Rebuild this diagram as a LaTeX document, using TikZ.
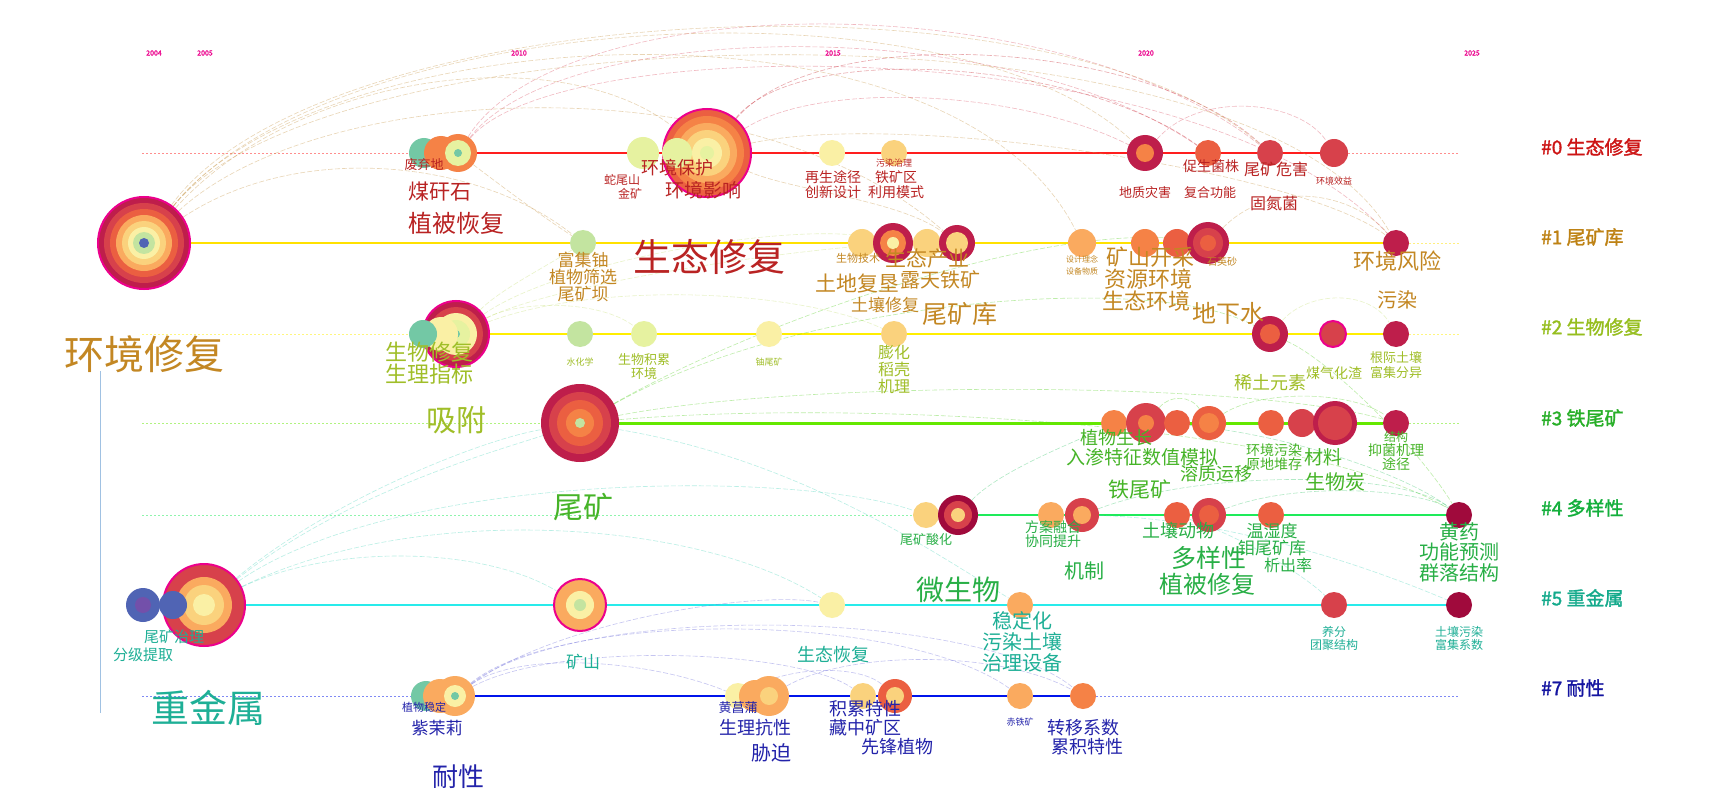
\documentclass[tikz,border=0pt]{standalone}
\usepackage{fontspec}
\setmainfont{Noto Sans CJK SC}[AutoFakeBold=1.6]
\usetikzlibrary{backgrounds}
%ring colours
\definecolor{k0}{RGB}{160,10,60}
\definecolor{k1}{RGB}{190,30,75}
\definecolor{k2}{RGB}{215,65,75}
\definecolor{k3}{RGB}{235,95,65}
\definecolor{k4}{RGB}{245,130,70}
\definecolor{k5}{RGB}{250,170,95}
\definecolor{k6}{RGB}{250,210,125}
\definecolor{k7}{RGB}{250,240,165}
\definecolor{k8}{RGB}{230,242,160}
\definecolor{k9}{RGB}{195,228,160}
\definecolor{k10}{RGB}{115,200,165}
\definecolor{k11}{RGB}{80,100,180}
\definecolor{k12}{RGB}{115,80,170}
%label colours
\definecolor{t0}{RGB}{185,35,35}
\definecolor{t1}{RGB}{195,135,35}
\definecolor{t2}{RGB}{160,190,40}
\definecolor{t3}{RGB}{70,180,40}
\definecolor{t4}{RGB}{40,175,70}
\definecolor{t5}{RGB}{30,175,150}
\definecolor{t7}{RGB}{35,35,170}
\definecolor{h0}{RGB}{205,20,20}
\definecolor{h1}{RGB}{190,130,20}
\definecolor{h2}{RGB}{150,190,30}
\definecolor{h3}{RGB}{40,175,40}
\definecolor{h4}{RGB}{20,175,60}
\definecolor{h5}{RGB}{20,170,140}
\definecolor{h7}{RGB}{20,20,160}
%line colours
\definecolor{l0}{RGB}{255,30,30}
\definecolor{l1}{RGB}{255,225,0}
\definecolor{l2}{RGB}{255,238,0}
\definecolor{l3}{RGB}{100,232,0}
\definecolor{l4}{RGB}{30,235,90}
\definecolor{l5}{RGB}{40,235,235}
\definecolor{l7}{RGB}{0,20,235}
%link colours
\definecolor{m0}{RGB}{220,80,100}
\definecolor{m0s}{RGB}{200,40,50}
\definecolor{m1}{RGB}{200,150,70}
\definecolor{m2}{RGB}{200,225,120}
\definecolor{m3}{RGB}{90,210,40}
\definecolor{m4}{RGB}{60,200,110}
\definecolor{m5}{RGB}{80,215,190}
\definecolor{m7}{RGB}{110,110,220}

\newcommand{\bub}[5][bub]{\node[#1,minimum size=#4*2pt,fill=#5] (#2) at (#3) {};}
\newcommand{\rings}[2]{\foreach \r/\c in {#2} \node[bub,minimum size=\r*2pt,fill=\c] (#1r\r) at (#1) {};}

\begin{document}
\begin{tikzpicture}[x=1pt,y=-1pt,
  bub/.style={circle,inner sep=0pt,draw=none},
  hub/.style={circle,inner sep=0pt,draw=magenta,line width=2pt},
  tx/.style={inner sep=0pt,font=\fontsize{#1}{#1}\selectfont},
  lk/.style={draw=#1,line width=0.6pt,dash pattern=on 5pt off 2pt,draw opacity=0.4},
  ext/.style={draw=#1,line width=0.8pt,dash pattern=on 2pt off 2pt,draw opacity=0.5},
  yr/.style={inner sep=0pt,text=magenta,font=\fontsize{7}{7}\selectfont\bfseries},
  hd/.style={inner sep=0pt,anchor=west,font=\fontsize{19}{19}\selectfont\bfseries}]
\useasboundingbox (0,0) rectangle (1735,805);
%years
\node[yr] (y04) at (154,53) {2004};
\node[yr] (y05) at (205,53) {2005};
\node[yr] (y10) at (519,53) {2010};
\node[yr] (y15) at (833,53) {2015};
\node[yr] (y20) at (1146,53) {2020};
\node[yr] (y25) at (1472,53) {2025};
%cluster heads
\node[hd,text=h0] (hd0) at (1541,147) {\#0 生态修复};
\node[hd,text=h1] (hd1) at (1541,237) {\#1 尾矿库};
\node[hd,text=h2] (hd2) at (1541,327) {\#2 生物修复};
\node[hd,text=h3] (hd3) at (1541,418) {\#3 铁尾矿};
\node[hd,text=h4] (hd4) at (1541,508) {\#4 多样性};
\node[hd,text=h5] (hd5) at (1541,598) {\#5 重金属};
\node[hd,text=h7] (hd7) at (1541,688) {\#7 耐性};
%row 0
\bub{a1}{424,153}{15}{k10}
\bub{a2}{441,153}{17}{k4}
\bub{a3}{458,153}{19}{k4}
\rings{a3}{13/k8,4/k10}
\bub{a4}{643,153}{16}{k8}
\bub[hub]{a6}{707,153}{44}{k3}
\rings{a6}{37/k4,30/k5,23/k6,15/k7,7/k8}
\bub{a5}{677,153}{15}{k8}
\bub{a7}{832,153}{13}{k7}
\bub{a8}{894,153}{13}{k6}
\bub{a9}{1145,153}{18}{k1}
\rings{a9}{9/k4}
\bub{a10}{1208,153}{13}{k3}
\bub{a11}{1270,153}{13}{k2}
\bub{a12}{1334,153}{14}{k2}
%row 1
\bub[hub]{b1}{144,243}{46}{k1}
\rings{b1}{40/k2,34/k3,28/k5,22/k6,16/k7,11/k9,5/k11}
\bub{b2}{583,243}{13}{k9}
\bub{b3}{862,243}{14}{k6}
\bub{b4}{893,243}{20}{k1}
\rings{b4}{13/k4,6/k7}
\bub{b5}{927,243}{14}{k6}
\bub{b6}{957,243}{18}{k1}
\rings{b6}{11/k6}
\bub{b7}{1082,243}{14}{k5}
\bub{b8}{1145,243}{14}{k4}
\bub{b9}{1177,243}{14}{k3}
\bub{b10}{1208,243}{21}{k1}
\rings{b10}{15/k2,8/k3}
\bub{b11}{1396,243}{13}{k1}
%row 2
\bub[hub]{c3}{456,334}{33}{k1}
\rings{c3}{27/k2,21/k7,14/k8,4/k10}
\bub{c2}{441,334}{17}{k7}
\bub{c1}{423,334}{14}{k10}
\bub{c4}{580,334}{13}{k9}
\bub{c5}{644,334}{13}{k8}
\bub{c6}{769,334}{13}{k7}
\bub{c7}{894,334}{13}{k6}
\bub{c8}{1270,334}{18}{k1}
\rings{c8}{10/k3}
\bub[hub]{c9}{1333,334}{13}{k2}
\bub{c10}{1396,334}{13}{k1}
%row 3
\bub{d1}{580,423}{39}{k1}
\rings{d1}{31/k2,23/k3,14/k4,5/k9}
\bub{d2}{1114,423}{13}{k4}
\bub{d3}{1146,423}{20}{k2}
\rings{d3}{8/k4}
\bub{d4}{1177,423}{13}{k3}
\bub{d5}{1209,423}{17}{k3}
\rings{d5}{10/k4}
\bub{d6}{1271,423}{13}{k3}
\bub{d7}{1302,423}{14}{k2}
\bub{d8}{1335,423}{22}{k1}
\rings{d8}{17/k2}
\bub{d9}{1396,423}{13}{k1}
%row 4
\bub{e1}{926,515}{13}{k6}
\bub{e2}{958,515}{20}{k0}
\rings{e2}{14/k2,7/k6}
\bub{e3}{1051,515}{13}{k5}
\bub{e4}{1082,515}{17}{k2}
\rings{e4}{9/k5}
\bub{e5}{1177,515}{13}{k3}
\bub{e6}{1209,515}{17}{k2}
\rings{e6}{10/k3}
\bub{e7}{1271,515}{13}{k3}
\bub{e8}{1459,515}{13}{k0}
%row 5
\bub[hub]{f3}{204,605}{41}{k2}
\rings{f3}{28/k5,20/k6,11/k7}
\bub{f1}{143,605}{17}{k11}
\rings{f1}{8/k12}
\bub{f2}{173,605}{14}{k11}
\bub[hub]{f4}{580,605}{26}{k5}
\rings{f4}{14/k7,6/k9}
\bub{f5}{832,605}{13}{k7}
\bub{f6}{1020,605}{13}{k5}
\bub{f7}{1334,605}{13}{k2}
\bub{f8}{1459,605}{13}{k0}
%row 7
\bub{g1}{426,696}{15}{k10}
\bub{g2}{440,696}{17}{k5}
\bub{g3}{455,696}{20}{k5}
\rings{g3}{11/k7,4/k10}
\bub{g4}{738,696}{13}{k7}
\bub{g5}{755,696}{16}{k5}
\bub{g6}{769,696}{20}{k5}
\rings{g6}{9/k6}
\bub{g7}{863,696}{13}{k6}
\bub{g8}{895,696}{17}{k3}
\rings{g8}{9/k6}
\bub{g9}{1020,696}{13}{k5}
\bub{g10}{1083,696}{13}{k4}
%labels row 0
\node[tx=13,text=t0] (la1) at (424,165) {废弃地};
\node[tx=21,text=t0] (la2) at (440,192) {煤矸石};
\node[tx=24,text=t0] (la3) at (456,223) {植被恢复};
\node[tx=12,text=t0] (la4) at (622,180) {蛇尾山};
\node[tx=12,text=t0] (la5) at (630,194) {金矿};
\node[tx=18,text=t0] (la6) at (677,168) {环境保护};
\node[tx=19,text=t0] (la7) at (703,190) {环境影响};
\node[tx=14,text=t0] (la8) at (833,177) {再生途径};
\node[tx=14,text=t0] (la9) at (833,192) {创新设计};
\node[tx=9,text=t0] (la10) at (894,163) {污染治理};
\node[tx=14,text=t0] (la11) at (896,177) {铁矿区};
\node[tx=14,text=t0] (la12) at (896,192) {利用模式};
\node[tx=13,text=t0] (la13) at (1145,193) {地质灾害};
\node[tx=13,text=t0] (la14) at (1210,193) {复合功能};
\node[tx=14,text=t0] (la15) at (1211,166) {促生菌株};
\node[tx=16,text=t0] (la16) at (1276,169) {尾矿危害};
\node[tx=9,text=t0] (la17) at (1334,181) {环境效益};
\node[tx=16,text=t0] (la18) at (1274,203) {固氮菌};
\node[tx=38,text=t0] (big0) at (709,257) {生态修复};
\node[tx=40,text=t1] (bigL) at (144,354) {环境修复};
%labels row 1
\node[tx=17,text=t1] (lb1) at (583,260) {富集铀};
\node[tx=17,text=t1] (lb2) at (583,277) {植物筛选};
\node[tx=17,text=t1] (lb3) at (583,294) {尾矿坝};
\node[tx=11,text=t1] (lb4) at (858,258) {生物技术};
\node[tx=21,text=t1] (lb5) at (927,259) {生态产业};
\node[tx=20,text=t1] (lb6) at (940,280) {露天铁矿};
\node[tx=21,text=t1] (lb7) at (857,284) {土地复垦};
\node[tx=17,text=t1] (lb8) at (885,305) {土壤修复};
\node[tx=25,text=t1] (lb9) at (960,314) {尾矿库};
\node[tx=8,text=t1] (lb10) at (1082,259) {设计理念};
\node[tx=8,text=t1] (lb11) at (1082,271) {设备物质};
\node[tx=22,text=t1] (lb12) at (1150,257) {矿山开采};
\node[tx=22,text=t1] (lb13) at (1148,279) {资源环境};
\node[tx=22,text=t1] (lb14) at (1146,301) {生态环境};
\node[tx=10,text=t1] (lb15) at (1222,262) {石英砂};
\node[tx=24,text=t1] (lb16) at (1228,313) {地下水};
\node[tx=22,text=t1] (lb17) at (1397,261) {环境风险};
\node[tx=20,text=t1] (lb18) at (1397,300) {污染};
%labels row 2
\node[tx=22,text=t2] (lc1) at (429,352) {生物修复};
\node[tx=22,text=t2] (lc2) at (429,374) {生理指标};
\node[tx=30,text=t2] (lc3) at (456,420) {吸附};
\node[tx=9,text=t2] (lc4) at (580,362) {水化学};
\node[tx=13,text=t2] (lc5) at (644,360) {生物积累};
\node[tx=13,text=t2] (lc6) at (644,374) {环境};
\node[tx=9,text=t2] (lc7) at (769,362) {铀尾矿};
\node[tx=16,text=t2] (lc8) at (894,352) {膨化};
\node[tx=16,text=t2] (lc9) at (894,369) {稻壳};
\node[tx=16,text=t2] (lc10) at (894,386) {机理};
\node[tx=18,text=t2] (lc11) at (1270,383) {稀土元素};
\node[tx=14,text=t2] (lc12) at (1334,373) {煤气化渣};
\node[tx=13,text=t2] (lc13) at (1396,358) {根际土壤};
\node[tx=13,text=t2] (lc14) at (1396,373) {富集分异};
%labels row 3
\node[tx=18,text=t3] (ld1) at (1116,438) {植物生长};
\node[tx=19,text=t3] (ld2) at (1104,457) {入渗特征};
\node[tx=19,text=t3] (ld3) at (1180,457) {数值模拟};
\node[tx=18,text=t3] (ld4) at (1216,474) {溶质运移};
\node[tx=21,text=t3] (ld5) at (1140,489) {铁尾矿};
\node[tx=14,text=t3] (ld6) at (1274,450) {环境污染};
\node[tx=14,text=t3] (ld7) at (1274,464) {原地堆存};
\node[tx=19,text=t3] (ld8) at (1323,457) {材料};
\node[tx=20,text=t3] (ld9) at (1335,482) {生物炭};
\node[tx=12,text=t3] (ld10) at (1396,437) {结构};
\node[tx=14,text=t3] (ld11) at (1396,450) {抑菌机理};
\node[tx=14,text=t3] (ld12) at (1396,464) {途径};
\node[tx=30,text=t3] (ld13) at (583,507) {尾矿};
%labels row 4
\node[tx=13,text=t4] (le1) at (926,540) {尾矿酸化};
\node[tx=14,text=t4] (le2) at (1053,527) {方案融合};
\node[tx=14,text=t4] (le3) at (1053,541) {协同提升};
\node[tx=20,text=t4] (le4) at (1084,571) {机制};
\node[tx=18,text=t4] (le5) at (1178,531) {土壤动物};
\node[tx=25,text=t4] (le6) at (1209,558) {多样性};
\node[tx=24,text=t4] (le7) at (1207,584) {植被修复};
\node[tx=17,text=t4] (le8) at (1272,531) {温湿度};
\node[tx=17,text=t4] (le9) at (1272,548) {钼尾矿库};
\node[tx=16,text=t4] (le10) at (1288,565) {析出率};
\node[tx=20,text=t4] (le11) at (1459,532) {黄药};
\node[tx=20,text=t4] (le12) at (1459,552) {功能预测};
\node[tx=20,text=t4] (le13) at (1459,573) {群落结构};
\node[tx=28,text=t4] (le14) at (958,590) {微生物};
%labels row 5
\node[tx=15,text=t5] (lf1) at (174,637) {尾矿治理};
\node[tx=15,text=t5] (lf2) at (143,655) {分级提取};
\node[tx=17,text=t5] (lf3) at (583,662) {矿山};
\node[tx=20,text=t5] (lf4) at (1022,621) {稳定化};
\node[tx=20,text=t5] (lf5) at (1022,642) {污染土壤};
\node[tx=20,text=t5] (lf6) at (1022,663) {治理设备};
\node[tx=18,text=t5] (lf7) at (833,655) {生态恢复};
\node[tx=12,text=t5] (lf8) at (1334,632) {养分};
\node[tx=12,text=t5] (lf9) at (1334,645) {团聚结构};
\node[tx=12,text=t5] (lf10) at (1459,632) {土壤污染};
\node[tx=12,text=t5] (lf11) at (1459,645) {富集系数};
\node[tx=38,text=t5] (bigR) at (208,708) {重金属};
%labels row 7
\node[tx=11,text=t7] (lg1) at (424,707) {植物稳定};
\node[tx=17,text=t7] (lg2) at (437,728) {紫茉莉};
\node[tx=26,text=t7] (lg3) at (458,777) {耐性};
\node[tx=13,text=t7] (lg4) at (738,708) {黄菖蒲};
\node[tx=18,text=t7] (lg5) at (755,728) {生理抗性};
\node[tx=20,text=t7] (lg6) at (771,753) {胁迫};
\node[tx=18,text=t7] (lg7) at (865,709) {积累特性};
\node[tx=18,text=t7] (lg8) at (865,728) {藏中矿区};
\node[tx=18,text=t7] (lg9) at (897,747) {先锋植物};
\node[tx=9,text=t7] (lg10) at (1020,722) {赤铁矿};
\node[tx=18,text=t7] (lg11) at (1083,728) {转移系数};
\node[tx=18,text=t7] (lg12) at (1087,747) {累积特性};
%row ends
\coordinate (r0w) at (142,153); \coordinate (r0e) at (1460,153);
\coordinate (r1e) at (1460,243);
\coordinate (r2w) at (142,334); \coordinate (r2e) at (1460,334);
\coordinate (r3w) at (142,423); \coordinate (r3e) at (1460,423);
\coordinate (r4w) at (142,515);
\coordinate (r7w) at (142,696); \coordinate (r7e) at (1460,696);
\coordinate (vt) at (100,371); \coordinate (vb) at (100,713);
\begin{pgfonlayer}{background}
\fill[white] (0,0) rectangle (1735,805);
%timelines
\draw[ext=l0] (r0w) -- (a1);
\draw[l0,line width=1.5pt] (a3) -- (a12);
\draw[ext=l0] (a12) -- (r0e);
\draw[l1,line width=2.5pt] (b1) -- (b11);
\draw[ext=l1] (b11) -- (r1e);
\draw[ext=l2] (r2w) -- (c1);
\draw[l2,line width=2pt] (c3) -- (c10);
\draw[ext=l2] (c10) -- (r2e);
\draw[ext=l3] (r3w) -- (d1);
\draw[l3,line width=3pt] (d1) -- (d9);
\draw[ext=l3] (d9) -- (r3e);
\draw[ext=l4] (r4w) -- (e1);
\draw[l4,line width=2.5pt] (e1) -- (e8);
\draw[l5,line width=1.5pt] (f3) -- (f8);
\draw[ext=l7] (r7w) -- (g1);
\draw[l7,line width=2pt] (g3) -- (g10);
\draw[ext=l7] (g10) -- (r7e);
\draw[m7!60!m5,line width=0.8pt,draw opacity=0.6] (vt) -- (vb);
%links cluster 1
\draw[lk=m1] (b1) .. controls (330,10) and (950,-30) .. (a9);
\draw[lk=m1] (b1) .. controls (320,0) and (1050,-40) .. (a11);
\draw[lk=m1] (b1) .. controls (320,20) and (950,-20) .. (b7);
\draw[lk=m1] (b1) .. controls (330,10) and (1250,-10) .. (b11);
\draw[lk=m1] (b1) .. controls (300,70) and (560,40) .. (a6);
\draw[lk=m1] (b1) .. controls (320,80) and (750,60) .. (b6);
\draw[lk=m1] (b1) .. controls (300,140) and (480,160) .. (b2);
\draw[lk=m1] (a3) .. controls (500,185) and (540,215) .. (b2);
\draw[lk=m1] (a6) .. controls (790,190) and (900,200) .. (b6);
\draw[lk=m1] (a6) .. controls (900,110) and (1300,170) .. (b11);
\draw[lk=m1] (b10) .. controls (1270,180) and (1350,190) .. (b11);
%links cluster 0
\draw[lk=m0] (a3) .. controls (560,-10) and (1050,-20) .. (a11);
\draw[lk=m0] (a3) .. controls (560,20) and (1000,10) .. (a10);
\draw[lk=m0] (a3) .. controls (560,30) and (1200,30) .. (b11);
\draw[lk=m0s] (a6) .. controls (800,40) and (1080,60) .. (a10);
\draw[lk=m0s] (a6) .. controls (820,20) and (1150,40) .. (a11);
\draw[lk=m0] (a6) .. controls (820,80) and (1020,90) .. (a9);
\draw[lk=m0] (a9) .. controls (1200,90) and (1300,100) .. (a12);
%links cluster 2
\draw[lk=m2] (c3) .. controls (560,260) and (800,220) .. (b4);
\draw[lk=m2] (c3) .. controls (560,280) and (850,240) .. (b6);
\draw[lk=m2] (c3) .. controls (600,280) and (800,290) .. (c7);
\draw[lk=m2] (c3) .. controls (520,300) and (600,300) .. (c5);
\draw[lk=m2] (c3) .. controls (500,290) and (540,270) .. (b2);
\draw[lk=m2] (c8) .. controls (1310,290) and (1370,290) .. (c10);
%links cluster 3
\draw[lk=m3] (d1) .. controls (760,320) and (1050,220) .. (b10);
\draw[lk=m3] (d1) .. controls (800,300) and (1150,270) .. (c8);
\draw[lk=m3] (d1) .. controls (800,380) and (1250,380) .. (d9);
\draw[lk=m3] (d1) .. controls (850,400) and (1300,420) .. (e8);
\draw[lk=m3] (d3) .. controls (1170,395) and (1190,395) .. (d5);
\draw[lk=m3] (d5) .. controls (1260,390) and (1350,390) .. (d9);
\draw[lk=m3] (c8) .. controls (1330,360) and (1420,450) .. (e8);
%links cluster 4
\draw[lk=m4] (e2) .. controls (1000,470) and (1080,440) .. (d2);
\draw[lk=m4] (e4) .. controls (1200,470) and (1400,470) .. (e8);
\draw[lk=m4] (e6) .. controls (1300,480) and (1420,490) .. (e8);
\draw[lk=m4] (d2) .. controls (1250,420) and (1400,470) .. (e8);
%links cluster 5
\draw[lk=m5] (f3) .. controls (330,500) and (480,440) .. (d1);
\draw[lk=m5] (f3) .. controls (350,490) and (500,450) .. (d1);
\draw[lk=m5] (f3) .. controls (400,470) and (800,470) .. (e1);
\draw[lk=m5] (f3) .. controls (330,545) and (480,545) .. (f4);
\draw[lk=m5] (f3) .. controls (420,500) and (700,520) .. (f5);
\draw[lk=m5] (d1) .. controls (800,460) and (930,550) .. (f6);
\draw[lk=m5] (e4) .. controls (1250,520) and (1400,580) .. (f8);
\draw[lk=m5] (e5) .. controls (1250,540) and (1310,580) .. (f7);
%links cluster 7
\draw[lk=m7] (g3) .. controls (560,620) and (760,590) .. (f5);
\draw[lk=m7] (g3) .. controls (560,640) and (800,650) .. (g7);
\draw[lk=m7] (g3) .. controls (560,610) and (900,610) .. (g9);
\draw[lk=m7] (g3) .. controls (580,600) and (980,610) .. (g10);
\draw[lk=m7] (g6) .. controls (850,650) and (1000,650) .. (g10);
\draw[lk=m7] (g4) .. controls (790,665) and (860,665) .. (g8);
\draw[lk=m7] (g3) .. controls (520,650) and (650,660) .. (g4);
\end{pgfonlayer}
\end{tikzpicture}
\end{document}
